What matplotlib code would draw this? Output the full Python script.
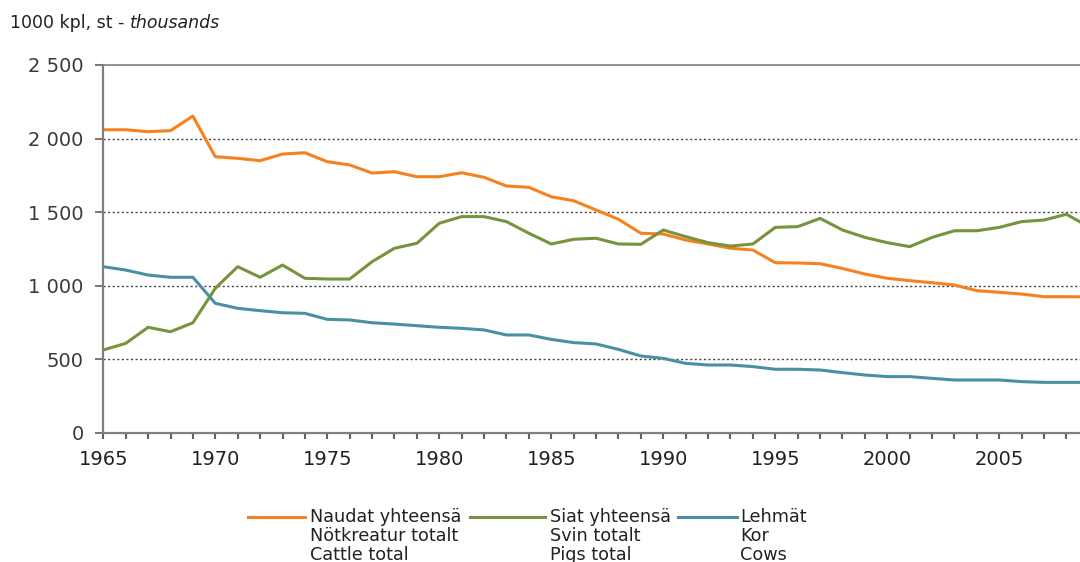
import matplotlib
matplotlib.use('Agg')
import matplotlib.pyplot as plt
from matplotlib.lines import Line2D
from matplotlib.ticker import MultipleLocator, FuncFormatter

years = list(range(1965, 2010))

cattle = [2060, 2060, 2047, 2054, 2153, 1877, 1866, 1850, 1895, 1904,
          1843, 1821, 1766, 1775, 1741, 1741, 1768, 1737, 1678, 1669,
          1605, 1578, 1515, 1452, 1357, 1352, 1311, 1284, 1255, 1243,
          1157, 1155, 1150, 1118, 1080, 1051, 1035, 1021, 1005, 967,
          956, 944, 926, 926, 925]

pigs = [564, 609, 718, 688, 749, 983, 1130, 1058, 1141, 1051,
        1046, 1046, 1164, 1255, 1289, 1425, 1470, 1470, 1436, 1357,
        1284, 1316, 1323, 1284, 1282, 1379, 1334, 1293, 1270, 1284,
        1397, 1402, 1458, 1379, 1329, 1293, 1266, 1329, 1374, 1374,
        1397, 1436, 1447, 1486, 1400]

cows = [1130, 1107, 1073, 1058, 1058, 881, 847, 831, 817, 813,
        772, 768, 749, 740, 729, 718, 711, 700, 666, 666,
        636, 614, 605, 568, 523, 507, 473, 462, 462, 451,
        433, 433, 428, 410, 394, 383, 383, 371, 360, 360,
        360, 349, 344, 344, 344]

labels = [
    ["Naudat yhteensä", "Nötkreatur totalt", "Cattle total"],
    ["Siat yhteensä", "Svin totalt", "Pigs total"],
    ["Lehmät", "Kor", "Cows"],
]
colors = ['#f5821f', '#77933c', '#4a90a3']

W, H = 1080, 562
fig = plt.figure(figsize=(W / 100, H / 100), dpi=100)
ax = fig.add_axes([103.3 / W, 129 / H, 1 - 103.3 / W, 368 / H])

for series, c in zip([cattle, pigs, cows], colors):
    ax.plot(years, series, color=c, lw=2.2, solid_joinstyle='round')

ax.set_xlim(1965, 1965 + (W - 103.3) / 22.4)
ax.set_ylim(0, 2500)

ax.yaxis.set_major_locator(MultipleLocator(500))
ax.yaxis.set_major_formatter(FuncFormatter(lambda v, p: f"{int(v):,}".replace(",", " ")))
ax.xaxis.set_major_locator(MultipleLocator(5))
ax.xaxis.set_minor_locator(MultipleLocator(1))

# dotted gridlines
for v in [500, 1000, 1500, 2000]:
    ax.axhline(v, color='#444444', lw=1, ls=(0, (1.5, 1.8)), zorder=0)

for side in ['left', 'bottom', 'top']:
    ax.spines[side].set_color('#808080')
    ax.spines[side].set_linewidth(1.6)
ax.spines['top'].set_linewidth(1.2)
ax.spines['right'].set_visible(False)

ax.tick_params(axis='y', direction='out', length=6, width=1.2, color='#606060',
               labelsize=14, labelcolor='#3a3a3a', pad=8)
ax.tick_params(axis='x', which='both', direction='out', length=4, width=1.5,
               color='#606060', labelsize=14, labelcolor='#222222', pad=8)

# unit label at top left
unit = fig.text(10 / W, 1 - 23 / H, "1000 kpl, st - ", fontsize=12.5, color='#222222',
                va='center', ha='left')
fig.canvas.draw()
bb = unit.get_window_extent()
fig.text(bb.x1 / W, 1 - 23 / H, "thousands", fontsize=12.5, style='italic',
         color='#222222', va='center', ha='left')

# legend
leg_x = [(248, 305, 310), (470, 545, 550), (678, 737, 740)]
line_y = [517, 536, 555]
for (x0, x1, tx), lab, c in zip(leg_x, labels, colors):
    fig.add_artist(Line2D([x0 / W, x1 / W], [1 - 517 / H, 1 - 517 / H],
                          color=c, lw=2.2, transform=fig.transFigure))
    for txt, yy in zip(lab, line_y):
        fig.text(tx / W, 1 - yy / H, txt, fontsize=12.7, color='#222222',
                 va='center', ha='left')

fig.savefig('out.png', dpi=100)
